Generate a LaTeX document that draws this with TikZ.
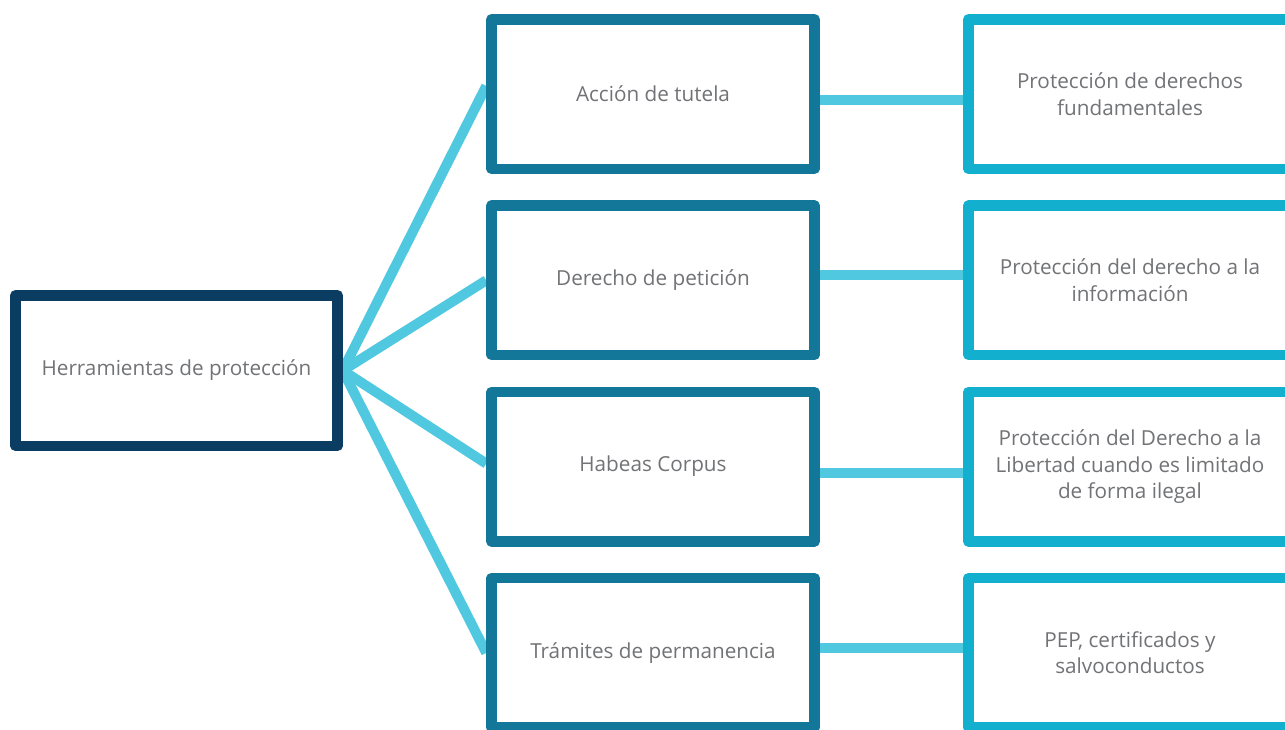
\documentclass[tikz,border=0pt]{standalone}
\usepackage{fontspec}
\setmainfont{Open Sans}
\pgfdeclarelayer{back}
\pgfsetlayers{back,main}
\definecolor{herrcol}{HTML}{0B3D63}
\definecolor{toolcol}{HTML}{13779A}
\definecolor{aimcol}{HTML}{12AFCF}
\definecolor{linkcol}{HTML}{4FC8E0}
\definecolor{txtcol}{HTML}{727376}

\begin{document}
\begin{tikzpicture}[x=1pt, y=-1pt, node distance=186.3pt,
    box/.style={draw, line width=10.5pt, line join=round, fill=white,
      minimum width=323pt, minimum height=149.5pt, align=center,
      text=txtcol, font=\fontsize{20.7}{26.5}\selectfont},
    tool/.style={box, draw=toolcol},
    aim/.style={box, draw=aimcol},
    link/.style={draw=linkcol, line width=10pt}]
  \useasboundingbox (0,0) rectangle (1285,729);
  \node[box, draw=herrcol, minimum width=322pt, minimum height=150.5pt] (H) at (176.5,370.5) {Herramientas de protección};
  \node[tool] (At) at (653,94) {Acción de tutela};
  \node[tool] (Dp) [below of=At] {Derecho de petición};
  \node[tool] (Hc) [below of=Dp] {Habeas Corpus};
  \node[tool] (Tp) [below of=Hc] {Trámites de permanencia};
  \node[aim] (Pa) [right of=At, node distance=477pt] {Protección de derechos\\fundamentales};
  \node[aim] (Pd) [right of=Dp, node distance=477pt] {Protección del derecho a la\\información};
  \node[aim] (Pl) [right of=Hc, node distance=477pt] {Protección del Derecho a la\\Libertad cuando es limitado\\de forma ilegal};
  \node[aim] (Pp) [right of=Tp, node distance=477pt] {PEP, certificados y\\salvoconductos};
  % connectors go behind the boxes
  \begin{pgfonlayer}{back}
    \draw[link] (H.east) -- ([yshift=8pt]At.west);
    \draw[link] (H.east) -- (Dp.west);
    \draw[link] (H.east) -- ([yshift=3pt]Hc.west);
    \draw[link] (H.east) -- (Tp.west);
    \draw[link] ([yshift=-6pt]At.east) -- ([yshift=-6pt]Pa.west);
    \draw[link] ([yshift=5pt]Dp.east) -- ([yshift=5pt]Pd.west);
    \draw[link] ([yshift=-6pt]Hc.east) -- ([yshift=-6pt]Pl.west);
    \draw[link] ([yshift=5pt]Tp.east) -- ([yshift=5pt]Pp.west);
  \end{pgfonlayer}
\end{tikzpicture}
\end{document}
